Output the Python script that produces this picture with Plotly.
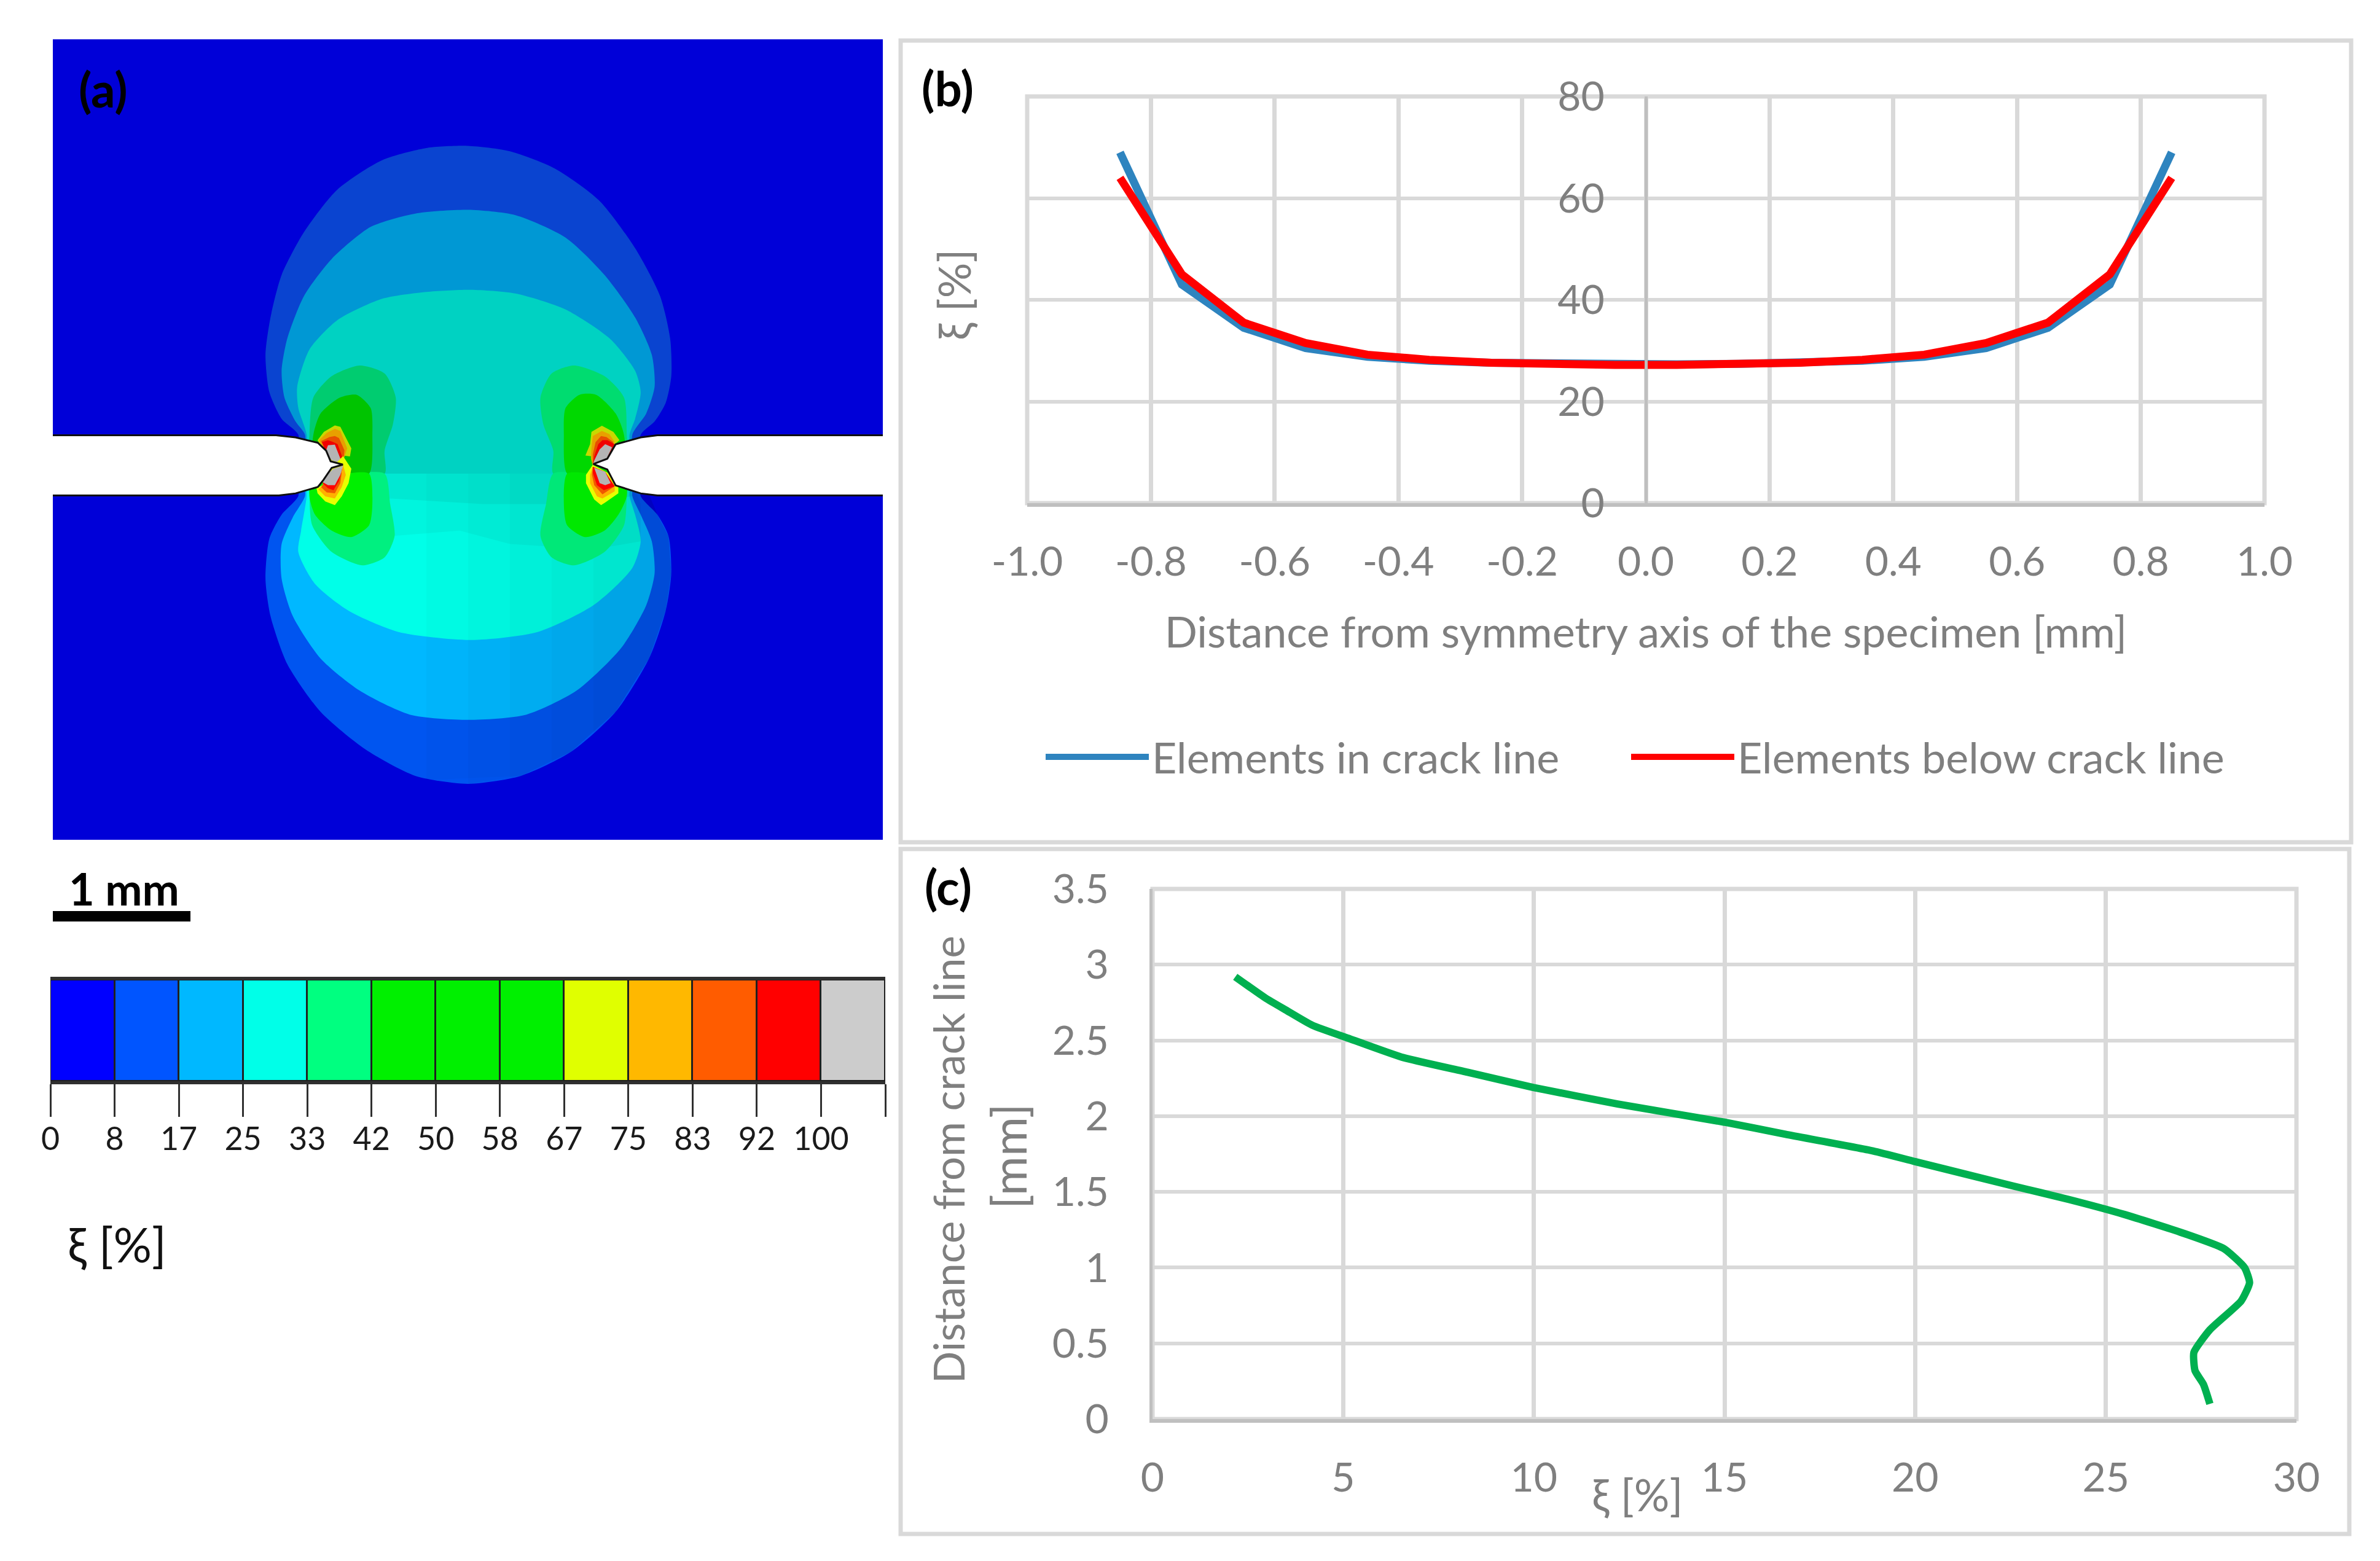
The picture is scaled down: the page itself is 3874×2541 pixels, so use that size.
import plotly.graph_objects as go

W = 3874
H = 2541
GREY = "#7f7f7f"
GRID = "#d9d9d9"
AXIS = "#bfbfbf"
FONT = "Lato, 'Noto Sans', sans-serif"

# (b) damage along the crack line
dist_b = [-0.85, -0.75, -0.65, -0.55, -0.45, -0.35, -0.25, -0.15, -0.05,
          0.05, 0.15, 0.25, 0.35, 0.45, 0.55, 0.65, 0.75, 0.85]
in_crack = [69, 43, 34.5, 30.5, 28.8, 28, 27.6, 27.4, 27.3,
            27.3, 27.4, 27.6, 28, 28.8, 30.5, 34.5, 43, 69]
below_crack = [64, 45, 35.5, 31.5, 29.2, 28.2, 27.6, 27.3, 27.2,
               27.2, 27.3, 27.6, 28.2, 29.2, 31.5, 35.5, 45, 64]
ticks_b = [-1, -0.8, -0.6, -0.4, -0.2, 0, 0.2, 0.4, 0.6, 0.8, 1]
labels_b = ["-1.0", "-0.8", "-0.6", "-0.4", "-0.2", "0.0", "0.2", "0.4", "0.6", "0.8", "1.0"]

# (c) damage over the distance from the crack line
xi_c = [2.17, 2.96, 3.5, 4.19, 5.18, 6.53, 8.26, 9.98, 12.2, 15, 16.6, 18.9, 20, 22.55,
        24.03, 25.5, 27, 28.1, 28.64, 28.77, 28.55, 27.73, 27.31, 27.34, 27.56, 27.73]
dist_c = [2.92, 2.78, 2.7, 2.6, 2.51, 2.39, 2.29, 2.19, 2.08, 1.96, 1.88, 1.77, 1.7, 1.54,
          1.45, 1.35, 1.23, 1.125, 1.0, 0.9, 0.78, 0.59, 0.44, 0.32, 0.23, 0.1]

# colour key
key_labels = ["0", "8", "17", "25", "33", "42", "50", "58", "67", "75", "83", "92", "100", ""]
key_colors = ["#0000ff", "#0055ff", "#00b8ff", "#00ffe8", "#00ff80", "#00f000", "#00f000",
              "#00f000", "#e0ff00", "#ffb800", "#ff5c00", "#ff0000", "#cccccc"]
key_cells = list(range(13))

# (a) contour outlines (field units, y downwards)
specimen = [(29, 28), (1520, 28), (1520, 1530), (29, 1530)]
split = [(950, 843), (775, 843), (600, 843)]
band1_top = [(470, 770), (440, 740), (418, 690), (411, 620), (420, 550), (440, 470), (480, 390),
             (540, 310), (620, 255), (700, 232), (775, 228), (850, 238), (930, 270), (1010, 330),
             (1075, 420), (1120, 510), (1138, 590), (1140, 660), (1130, 710), (1110, 745),
             (1085, 770), (1085, 843)] + split + [(470, 843)]
band1_low = [(470, 843), (470, 885), (440, 920), (418, 965), (411, 1040), (420, 1110), (450, 1200),
             (510, 1290), (590, 1360), (680, 1410), (775, 1425), (870, 1410), (960, 1365),
             (1040, 1290), (1100, 1190), (1130, 1100), (1140, 1030), (1135, 960), (1115, 920),
             (1085, 885), (1085, 843)] + split
band2_top = [(482, 770), (465, 745), (445, 700), (440, 650), (450, 590), (480, 510), (530, 440),
             (600, 380), (680, 355), (775, 348), (860, 358), (950, 400), (1020, 470), (1075, 550),
             (1105, 620), (1110, 680), (1095, 730), (1070, 770), (1070, 843)] + split + [(482, 843)]
band2_low = [(482, 843), (482, 885), (460, 925), (440, 975), (440, 1040), (460, 1110), (510, 1190),
             (580, 1250), (670, 1295), (775, 1305), (880, 1295), (970, 1250), (1050, 1170),
             (1095, 1090), (1110, 1030), (1105, 970), (1085, 920), (1070, 885), (1070, 843)] + split
band3_top = [(485, 770), (470, 720), (468, 680), (490, 610), (540, 555), (620, 515), (700, 502),
             (780, 498), (860, 505), (950, 535), (1030, 590), (1075, 650), (1085, 690), (1075, 740),
             (1065, 770), (1065, 843)] + split + [(485, 843)]
band3_low = [(485, 843), (485, 885), (475, 950), (470, 990), (500, 1050), (560, 1100), (650, 1140),
             (780, 1155), (900, 1140), (1000, 1090), (1070, 1020), (1085, 970), (1075, 920),
             (1065, 885), (1065, 843)] + split
band4_l_top = [(490, 770), (497, 700), (530, 660), (580, 640), (625, 655), (645, 700), (640, 750),
               (625, 800), (625, 843), (560, 843), (490, 843)]
band4_l_low = [(490, 843), (560, 843), (625, 843), (635, 900), (643, 960), (625, 1000), (585, 1015),
               (530, 990), (495, 940), (490, 885)]
band4_r_top = [(1060, 770), (1055, 700), (1020, 660), (965, 640), (925, 655), (905, 700), (910, 750),
               (928, 800), (928, 843), (990, 843), (1060, 843)]
band4_r_low = [(1060, 843), (990, 843), (928, 843), (915, 900), (905, 960), (925, 1000), (965, 1015),
               (1020, 990), (1055, 940), (1060, 885)]
band5_l_top = [(497, 770), (510, 730), (545, 700), (575, 695), (600, 720), (603, 770), (597, 843),
               (550, 843), (497, 843)]
band5_l_low = [(497, 843), (550, 843), (597, 843), (603, 900), (597, 940), (565, 962), (530, 950),
               (500, 920), (490, 885)]
band5_r_top = [(1055, 770), (1040, 730), (1005, 695), (975, 695), (950, 720), (947, 770), (953, 843),
               (1000, 843), (1055, 843)]
band5_r_low = [(1055, 843), (1000, 843), (953, 843), (947, 900), (953, 940), (985, 962), (1020, 950),
               (1045, 920), (1060, 885)]

# lower half darkens towards the crack line and to the right
low_right_edge = [(1085, 843), (1115, 920), (1135, 960), (1140, 1030), (1130, 1100), (1100, 1190),
                  (1040, 1290), (960, 1365), (870, 1410)]
shade_starts = [(700, 1418), (775, 1425), (850, 1413), (925, 1385), (1000, 1330)]
shade_strip_1 = [(560, 843), (1065, 843), (1085, 900), (1085, 970), (1000, 985), (850, 975), (760, 950),
                 (640, 960), (560, 940)]
shade_strip_2 = [(490, 843), (1065, 843), (1070, 885), (1000, 900), (800, 900), (640, 890), (490, 890)]

# crack tip detail (close-up units)
tip_l_top = [
    ("#c8d800", [(262, 470), (285, 430), (325, 398), (345, 405), (385, 510), (380, 550), (355, 545), (355, 585), (300, 570), (270, 490)]),
    ("#e8a000", [(268, 470), (295, 435), (325, 415), (345, 425), (370, 510), (358, 560), (355, 585), (305, 560), (275, 490)]),
    ("#e85000", [(275, 475), (305, 455), (325, 450), (340, 460), (360, 520), (355, 585), (305, 560)]),
    ("#f00000", [(278, 480), (300, 470), (320, 480), (335, 490), (350, 545), (355, 585), (290, 520)]),
    ("#b4b4b4", [(300, 495), (325, 492), (345, 560), (355, 585), (315, 570), (290, 530)]),
]
tip_l_low = [
    ("#e8ff00", [(355, 548), (385, 610), (375, 680), (350, 745), (325, 788), (290, 770), (262, 730), (258, 705), (280, 690), (300, 620)]),
    ("#ffb000", [(355, 590), (365, 640), (350, 700), (325, 755), (290, 745), (265, 710), (285, 685)]),
    ("#f05800", [(350, 630), (345, 680), (325, 730), (295, 725), (275, 700), (290, 670)]),
    ("#ff0000", [(352, 610), (340, 670), (320, 715), (300, 705), (280, 680), (300, 640)]),
    ("#b4b4b4", [(355, 595), (320, 610), (295, 640), (280, 675), (300, 690), (325, 690), (345, 640)]),
]
tip_r_top = [
    ("#c8d800", [(1345, 490), (1362, 470), (1340, 430), (1298, 400), (1260, 430), (1255, 490), (1238, 545), (1265, 550), (1265, 590), (1320, 570)]),
    ("#e8a000", [(1345, 480), (1325, 440), (1298, 425), (1265, 450), (1260, 510), (1258, 560), (1265, 595)]),
    ("#e85000", [(1340, 480), (1315, 455), (1295, 450), (1275, 480), (1265, 540), (1265, 590)]),
    ("#f00000", [(1345, 490), (1318, 470), (1300, 470), (1285, 490), (1270, 550), (1265, 590), (1320, 550)]),
    ("#b4b4b4", [(1335, 505), (1310, 490), (1290, 515), (1270, 570), (1265, 590), (1310, 575)]),
]
tip_r_low = [
    ("#e8ff00", [(1358, 700), (1358, 730), (1310, 775), (1295, 788), (1270, 760), (1240, 680), (1240, 640), (1265, 590), (1320, 630)]),
    ("#ffb000", [(1345, 700), (1345, 720), (1300, 755), (1280, 745), (1255, 680), (1255, 640), (1265, 600)]),
    ("#f05800", [(1345, 695), (1300, 735), (1270, 690), (1262, 640), (1265, 600)]),
    ("#ff0000", [(1345, 695), (1305, 715), (1280, 690), (1265, 630), (1265, 600), (1310, 625)]),
    ("#b4b4b4", [(1330, 680), (1310, 690), (1290, 680), (1270, 605), (1310, 625)]),
]

notch_left = [(20, 771), (430, 771), (465, 775), (505, 785), (520, 800), (528, 820), (550, 826),
              (530, 832), (515, 855), (505, 868), (465, 880), (435, 884), (20, 884)]
notch_right = [(1530, 771), (1115, 771), (1085, 775), (1040, 788), (1025, 815), (1000, 825),
               (1025, 835), (1040, 865), (1085, 880), (1115, 884), (1530, 884)]


def px(x):
    return x / W


def py(y):
    return 1 - y / H


def patch(points, color, line=None, smooth=False):
    return go.Scatter(
        x=[p[0] for p in points] + [points[0][0]],
        y=[p[1] for p in points] + [points[0][1]],
        mode="lines", fill="toself", fillcolor=color,
        line=dict(width=3 if line else 0, color=line or color,
                  shape="spline" if smooth else "linear", smoothing=0.7 if smooth else 0),
        xaxis="x3", yaxis="y3", showlegend=False, hoverinfo="skip",
    )


def closeup(points):
    # close-up crop -> field units
    return [(375.4 + 0.493 * x, 599.6 + 0.384 * y) for x, y in points]


fig = go.Figure()

# curves
fig.add_trace(go.Scatter(x=dist_b, y=in_crack, mode="lines", name="Elements in crack line",
                         line=dict(color="#2e84bf", width=13), legend="legend"))
fig.add_trace(go.Scatter(x=dist_b, y=below_crack, mode="lines", name="Elements below crack line",
                         line=dict(color="#ff0000", width=13), legend="legend2"))
fig.add_trace(go.Scatter(x=xi_c, y=dist_c, mode="lines", xaxis="x2", yaxis="y2", showlegend=False,
                         line=dict(color="#00b050", width=12, shape="spline", smoothing=0.5)))

# contour field
fig.add_trace(patch(specimen, "#0000d8"))
for pts, col in [
    (band1_top, "#0a44d0"), (band1_low, "#0055f0"),
    (band2_top, "#0098d4"), (band2_low, "#00b8ff"),
    (band3_top, "#00d2c2"), (band3_low, "#00ffe8"),
]:
    fig.add_trace(patch(pts, col, smooth=True))
for x_start, y_end in shade_starts:
    edge = [p for p in low_right_edge if p[0] > x_start]
    fig.add_trace(patch([(x_start, 843)] + edge + [(x_start, y_end)], "rgba(0,0,0,0.018)"))
fig.add_trace(patch(shade_strip_1, "rgba(0,0,0,0.04)"))
fig.add_trace(patch(shade_strip_2, "rgba(0,0,0,0.05)"))
for pts, col in [
    (band4_l_top, "#00cc70"), (band4_l_low, "#00f080"),
    (band4_r_top, "#00dc70"), (band4_r_low, "#00e878"),
    (band5_l_top, "#00c400"), (band5_l_low, "#00f000"),
    (band5_r_top, "#00d800"), (band5_r_low, "#00e800"),
]:
    fig.add_trace(patch(pts, col, smooth=True))
for tip in (tip_l_top, tip_l_low, tip_r_top, tip_r_low):
    for col, pts in tip:
        fig.add_trace(patch(closeup(pts), col))
fig.add_trace(patch(notch_left, "#ffffff", "#101010"))
fig.add_trace(patch(notch_right, "#ffffff", "#101010"))

# colour key
fig.add_trace(go.Bar(x=key_cells, y=[1] * 13, width=1, offset=0, marker=dict(
    color=key_colors, line=dict(color="#202020", width=3)),
    xaxis="x4", yaxis="y4", showlegend=False, hoverinfo="skip"))

base_font = dict(family=FONT, size=66, color=GREY)
title_font = dict(family=FONT, size=70, color=GREY)
legend_font = dict(family=FONT, size=70, color=GREY)

fig.update_layout(
    width=W, height=H, autosize=False,
    margin=dict(l=0, r=0, t=0, b=0, autoexpand=False),
    paper_bgcolor="white", plot_bgcolor="white",
    font=base_font, bargap=0,
    xaxis=dict(
        domain=[px(1672), px(3686)], range=[-1, 1], tickvals=ticks_b, ticktext=labels_b,
        gridcolor=GRID, gridwidth=7, zeroline=False, showline=True, linecolor=AXIS,
        linewidth=6, ticks="", ticklabelstandoff=33, tickfont=base_font, anchor="y",
        title=dict(text="Distance from symmetry axis of the specimen [mm]", font=title_font, standoff=57),
    ),
    yaxis=dict(
        domain=[py(819), py(157)], range=[0, 80], tickvals=[0, 20, 40, 60, 80],
        gridcolor=GRID, gridwidth=6, zeroline=False, showline=True, linecolor=AXIS, linewidth=5,
        anchor="free", position=px(2679), ticks="", ticklabelstandoff=52, tickfont=base_font,
    ),
    xaxis2=dict(
        domain=[px(1876), px(3738)], range=[0, 30], tickvals=[0, 5, 10, 15, 20, 25, 30],
        gridcolor=GRID, gridwidth=7, zeroline=False, showline=True, linecolor=AXIS, linewidth=6,
        ticks="", ticklabelstandoff=33, tickfont=base_font, anchor="y2",
    ),
    yaxis2=dict(
        domain=[py(2310), py(1447)], range=[0, 3.5], tickvals=[0, 0.5, 1, 1.5, 2, 2.5, 3, 3.5],
        ticktext=["0", "0.5", "1", "1.5", "2", "2.5", "3", "3.5"],
        gridcolor=GRID, gridwidth=6, zeroline=False, showline=True, linecolor=AXIS, linewidth=5,
        ticks="", ticklabelstandoff=53, tickfont=base_font, anchor="x2",
    ),
    xaxis3=dict(domain=[px(86), px(1437)], range=[29, 1520], visible=False, anchor="y3"),
    yaxis3=dict(domain=[py(1367), py(64)], range=[1530, 28], visible=False, anchor="x3"),
    xaxis4=dict(
        domain=[px(82), px(1441)], range=[0, 13], tickvals=list(range(14)), ticktext=key_labels,
        ticks="outside", ticklen=53, tickwidth=3, tickcolor="#303030", showgrid=False, zeroline=False,
        showline=True, linecolor="#303030", linewidth=5, mirror=True, anchor="y4",
        ticklabelstandoff=-8, tickfont=dict(family=FONT, size=52, color="#1a1a1a"),
    ),
    yaxis4=dict(domain=[py(1760), py(1595)], range=[0, 1], visible=False, anchor="x4"),
    legend=dict(
        orientation="h", x=px(1697), xanchor="left", y=py(1232), yanchor="middle",
        itemwidth=168, font=legend_font, bgcolor="rgba(0,0,0,0)",
    ),
    legend2=dict(
        orientation="h", x=px(2650), xanchor="left", y=py(1232), yanchor="middle",
        itemwidth=168, font=legend_font, bgcolor="rgba(0,0,0,0)",
    ),
)

# panel frames and scale bar
for x0, y0, x1, y1 in [(1466, 66, 3827, 1371), (1466, 1382, 3824, 2497)]:
    fig.add_shape(type="rect", xref="paper", yref="paper", x0=px(x0), x1=px(x1), y0=py(y0), y1=py(y1),
                  line=dict(color=GRID, width=7), layer="below")
fig.add_shape(type="rect", xref="paper", yref="paper", x0=px(86), x1=px(310), y0=py(1483), y1=py(1500),
              fillcolor="black", line=dict(width=0))
# outer grid lines, plotly drops the ones sitting on the range ends
for xr, yr in [("x domain", "y domain"), ("x2 domain", "y2 domain")]:
    fig.add_shape(type="rect", xref=xr, yref=yr, x0=0, x1=1, y0=0, y1=1,
                  line=dict(color=GRID, width=7), layer="below")


def note(text, x, y, size=64, color=GREY, bold=False, angle=0):
    fig.add_annotation(
        text=f"<b>{text}</b>" if bold else text, x=px(x), y=py(y), xref="paper", yref="paper",
        xanchor="center", yanchor="middle", showarrow=False, textangle=angle,
        font=dict(family=FONT, size=size, color=color),
    )


note("(a)", 168, 145, 78, "black", True)
note("(b)", 1542, 143, 78, "black", True)
note("(c)", 1543, 1443, 78, "black", True)
note("1 mm", 202, 1446, 72, "black", True)
note("ξ [%]", 190, 2025, 78, "#111111")
note("ξ [%]", 1552, 480, 72, GREY, angle=-90)
note("ξ [%]", 2665, 2432, 72, GREY)
note("Distance from crack line", 1543, 1888, 69, GREY, angle=-90)
note("[mm]", 1641, 1882, 78, GREY, angle=-90)

fig.write_html("out.html", config={"displayModeBar": False},
               post_script="document.body.style.margin='0';document.body.style.overflow='hidden';")
